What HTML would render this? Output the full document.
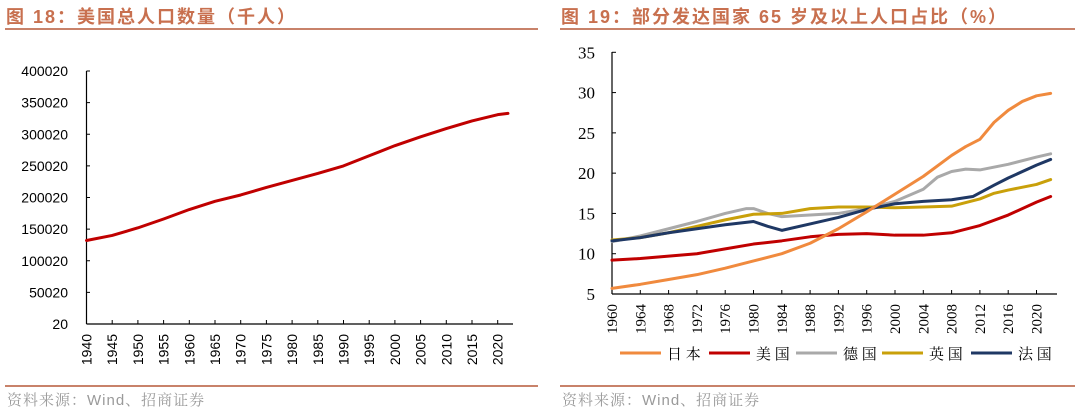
<!DOCTYPE html>
<html><head><meta charset="utf-8"><style>
body{margin:0;width:1080px;height:411px;background:#fff;overflow:hidden;font-family:"Liberation Sans","Noto Sans CJK SC",sans-serif}
.t{position:absolute;top:3px;font-size:18px;font-weight:bold;color:#c8704f;white-space:nowrap;letter-spacing:2px}
.r{position:absolute;height:2px;background:#c8826a}
.s{position:absolute;top:389px;font-size:15px;color:#9a9a9a;font-family:"Liberation Sans","Noto Serif CJK SC",serif;letter-spacing:1px}
</style></head><body>
<div class="t" style="left:6px">图 18：美国总人口数量（千人）</div>
<div class="r" style="left:5px;width:533px;top:28px"></div>
<div class="t" style="left:561px">图 19：部分发达国家 65 岁及以上人口占比（%）</div>
<div class="r" style="left:560px;width:515px;top:28px"></div>
<div class="r" style="left:5px;width:533px;top:385px"></div>
<div class="r" style="left:560px;width:515px;top:385px"></div>
<div class="s" style="left:7px">资料来源：Wind、招商证券</div>
<div class="s" style="left:562px">资料来源：Wind、招商证券</div>
<svg id="c" width="1080" height="411" style="position:absolute;left:0;top:0"></svg>
<script>
const popYears=[1940,1945,1950,1955,1960,1965,1970,1975,1980,1985,1990,1995,2000,2005,2010,2015,2020,2022];
const popValues=[132000,140000,152000,166000,181000,194000,204000,216000,227000,238000,250000,266000,282000,296000,309000,321000,331000,333000];
const popTicks=[20,50020,100020,150020,200020,250020,300020,350020,400020];
const popXTicks=[1940,1945,1950,1955,1960,1965,1970,1975,1980,1985,1990,1995,2000,2005,2010,2015,2020];

const ageTicks=[5,10,15,20,25,30,35];
const ageXTicks=[1960,1964,1968,1972,1976,1980,1984,1988,1992,1996,2000,2004,2008,2012,2016,2020];
const jpYears=[1960,1964,1968,1972,1976,1980,1984,1988,1992,1996,2000,2004,2008,2010,2012,2014,2016,2018,2020,2022];
const jpValues=[5.7,6.2,6.8,7.4,8.2,9.1,10.0,11.3,13.1,15.2,17.4,19.6,22.2,23.3,24.2,26.3,27.8,28.9,29.6,29.9];
const usYears=[1960,1964,1968,1972,1976,1980,1984,1988,1992,1996,2000,2004,2008,2012,2016,2020,2022];
const usValues=[9.2,9.4,9.7,10.0,10.6,11.2,11.6,12.1,12.4,12.5,12.3,12.3,12.6,13.5,14.8,16.4,17.1];
const deYears=[1960,1964,1968,1972,1976,1979,1980,1982,1984,1988,1992,1996,2000,2004,2006,2008,2010,2012,2016,2020,2022];
const deValues=[11.5,12.2,13.1,14.0,15.0,15.6,15.6,15.0,14.6,14.8,15.0,15.6,16.5,18.0,19.5,20.2,20.5,20.4,21.1,22.0,22.4];
const ukYears=[1960,1964,1968,1972,1976,1980,1984,1988,1992,1996,2000,2004,2008,2012,2014,2016,2020,2022];
const ukValues=[11.7,12.0,12.6,13.4,14.2,14.9,15.0,15.6,15.8,15.8,15.7,15.8,15.9,16.8,17.5,17.9,18.6,19.2];
const frYears=[1960,1964,1968,1972,1976,1980,1982,1984,1988,1992,1996,2000,2004,2008,2011,2014,2016,2020,2022];
const frValues=[11.6,12.0,12.6,13.1,13.6,14.0,13.4,12.9,13.7,14.5,15.5,16.2,16.5,16.7,17.1,18.5,19.4,21.0,21.7];
const seriesNames=["日 本","美 国","德 国","英 国","法 国"];
const seriesColors=["#f08a3e","#c00000","#a9a9a9","#c9a00a","#1f3864"];

const svg=document.getElementById('c');
const NS='http://www.w3.org/2000/svg';
function el(tag,attrs,text){const e=document.createElementNS(NS,tag);for(const k in attrs)e.setAttribute(k,attrs[k]);if(text!==undefined)e.textContent=text;svg.appendChild(e);return e;}

const lx=y=>86.5+(y-1940)*(497.7-86.5)/80;
const ly=v=>324-(v-20)*(324-71)/400000;
let e;
e=el('line',{x1:86.5,y1:71,x2:86.5,y2:324,stroke:'#000','stroke-width':1.2});

e=el('line',{x1:86.5,y1:324,x2:513,y2:324,stroke:'#000','stroke-width':1.2});

popTicks.forEach(t=>{
 el('line',{x1:86.5,y1:ly(t),x2:90,y2:ly(t),stroke:'#000'});
 e=el('text',{x:68,y:ly(t)+5,'text-anchor':'end','font-size':14,fill:'#000'},String(t));
 
});
popXTicks.forEach(t=>{
 el('line',{x1:lx(t),y1:324,x2:lx(t),y2:320,stroke:'#000'});
 e=el('text',{x:0,y:0,'text-anchor':'end','font-size':14,fill:'#000',transform:`translate(${lx(t)+5},334) rotate(-90)`},String(t));
 
});
e=el('polyline',{points:popYears.map((y,i)=>lx(y)+','+ly(popValues[i])).join(' '),fill:'none',stroke:'#c00000','stroke-width':3,'stroke-linejoin':'round','stroke-linecap':'round'});


const rx=y=>612+(y-1960)*(1036.5-612)/60;
const ry=v=>294-(v-5)*(294-52.3)/30;
e=el('line',{x1:612,y1:52,x2:612,y2:294,stroke:'#000','stroke-width':1.2});

e=el('line',{x1:612,y1:294,x2:1057,y2:294,stroke:'#000','stroke-width':1.2});

ageTicks.forEach(t=>{
 el('line',{x1:612,y1:ry(t),x2:616,y2:ry(t),stroke:'#000'});
 e=el('text',{x:595,y:ry(t)+6,'text-anchor':'end','font-size':17,fill:'#000','font-family':'Liberation Serif,serif'},String(t));
 
});
ageXTicks.forEach(t=>{
 el('line',{x1:rx(t),y1:294,x2:rx(t),y2:290,stroke:'#000'});
 e=el('text',{x:0,y:0,'text-anchor':'end','font-size':15,fill:'#000','font-family':'Liberation Serif,serif',transform:`translate(${rx(t)+5},304) rotate(-90)`},String(t));
 
});
const allY=[jpYears,usYears,deYears,ukYears,frYears], allV=[jpValues,usValues,deValues,ukValues,frValues];
const slugs=['japan','usa','germany','uk','france'];
const order=[2,3,4,1,0];
order.forEach(i=>{
 e=el('polyline',{points:allY[i].map((y,k)=>rx(y)+','+ry(allV[i][k])).join(' '),fill:'none',stroke:seriesColors[i],'stroke-width':3,'stroke-linejoin':'round','stroke-linecap':'round'});
 
});
const legX=[620,709,796,882,971];
seriesNames.forEach((n,i)=>{
 e=el('line',{x1:legX[i],y1:353,x2:legX[i]+41,y2:353,stroke:seriesColors[i],'stroke-width':3});
 
 e=el('text',{x:legX[i]+47,y:359,'font-size':15,fill:'#000','font-family':'Liberation Serif,Noto Serif CJK SC,serif'},n);
 
});
</script>
</body></html>
